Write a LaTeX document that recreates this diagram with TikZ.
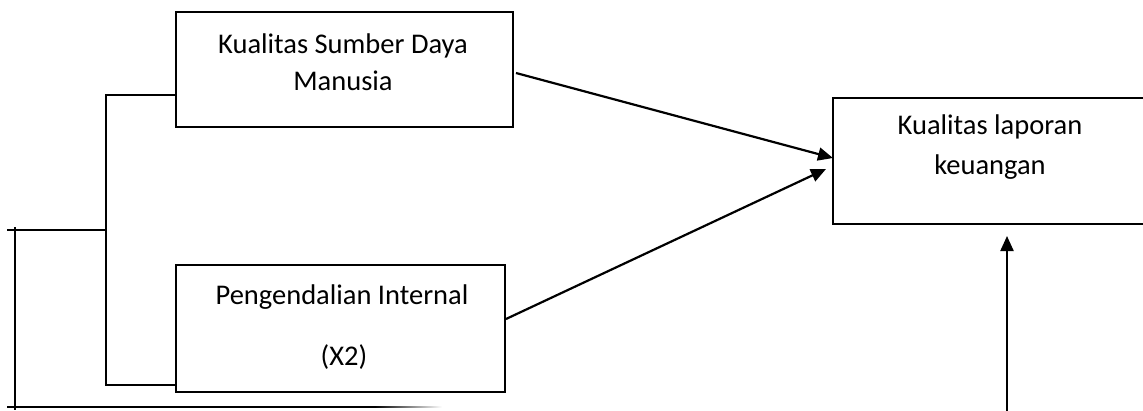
\documentclass[tikz,border=0pt]{standalone}
\usepackage{fontspec}
\setmainfont{Carlito}
\usetikzlibrary{arrows.meta}
\begin{document}
\begin{tikzpicture}[x=1pt,y=-1pt,
  boxstyle/.style={draw=black,line width=1.6pt,rectangle,inner sep=0pt},
  lbl/.style={font=\fontsize{28.5}{32}\selectfont,inner sep=0pt,anchor=center},
  arr/.style={line width=2.2pt,-{Triangle[length=15pt,width=13pt]}},
  brk/.style={line width=1.5pt}]
\useasboundingbox (0,0) rectangle (1143,410);
% boxes
\node[boxstyle,minimum width=337pt,minimum height=115pt] (b1) at (344.5,69.5) {};
\node[boxstyle,minimum width=329pt,minimum height=127pt] (b2) at (340.5,328.5) {};
\node[boxstyle,minimum width=320pt,minimum height=126pt] (b3) at (993,161) {};
% texts
\node[lbl] (t1a) at (343,46) {Kualitas Sumber Daya};
\node[lbl] (t1b) at (343,81) {Manusia};
\node[lbl] (t2a) at (342,297) {Pengendalian Internal};
\node[lbl] (t2b) at (344,357) {(X2)};
\node[lbl] (t3a) at (990,127) {Kualitas laporan};
\node[lbl] (t3b) at (990,167) {keuangan};
% coordinates
\coordinate (a1s) at (516,73);
\coordinate (a1e) at (833,158);
\coordinate (a2s) at (506,319);
\coordinate (a2e) at (826,169);
\coordinate (a3s) at (1007,412);
\coordinate (a3e) at (1007,236);
% arrows
\draw[arr] (a1s) -- (a1e);
\draw[arr] (a2s) -- (a2e);
\draw[arr] (a3s) -- (a3e);
% bracket
\coordinate (k1) at (106,95);
\coordinate (k2) at (106,385);
\coordinate (k3) at (106,230);
\coordinate (k4) at (7,230);
\coordinate (k5) at (15,227);
\coordinate (k6) at (15,410);
\coordinate (k7) at (7,407);
\coordinate (k8) at (375,407);
\draw[brk] (b1.west |- k1) -- (k1) -- (k2) -- (b2.west |- k2);
\draw[brk] (k3) -- (k4);
\draw[brk] (k5) -- (k6);
\draw[line width=1.8pt] (k7) -- (k8);
\shade[left color=black,right color=white] (375,406.1) rectangle (442,407.9);
\end{tikzpicture}
\end{document}
